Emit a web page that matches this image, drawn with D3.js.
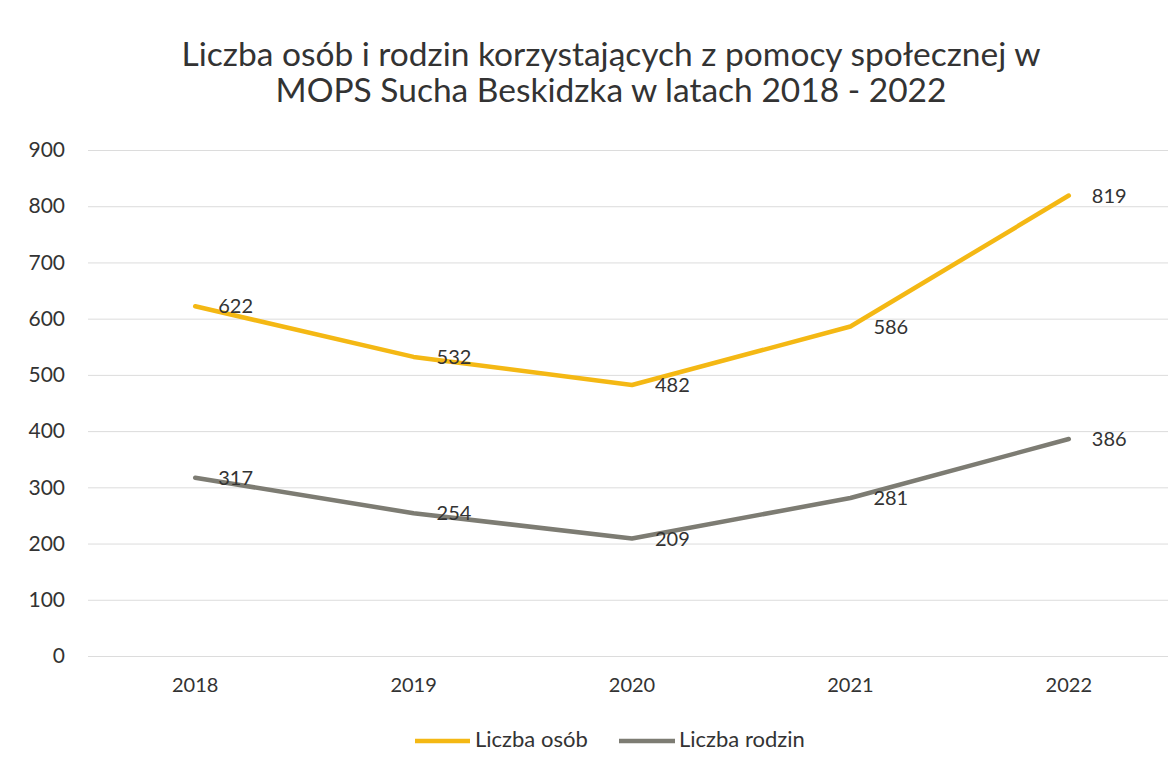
<!DOCTYPE html>
<html>
<head>
<meta charset="utf-8">
<script src="https://cdn.jsdelivr.net/npm/d3@7"></script>
<style>
  html, body { margin: 0; padding: 0; background: #fff; }
  svg { display: block; }
  text { font-family: Lato, "Open Sans", sans-serif; fill: #333; }
</style>
</head>
<body>
<svg id="chart" width="1168" height="767"></svg>
<script>
const titleLines = ["Liczba osób i rodzin korzystających z pomocy społecznej w",
                    "MOPS Sucha Beskidzka w latach 2018 - 2022"];
const years = ["2018", "2019", "2020", "2021", "2022"];
const osoby = [622, 532, 482, 586, 819];
const rodziny = [317, 254, 209, 281, 386];
const yTicks = [0, 100, 200, 300, 400, 500, 600, 700, 800, 900];
const seriesNames = ["Liczba osób", "Liczba rodzin"];
const seriesColors = ["#F4B814", "#7d7c73"];

const svg = d3.select("#chart");
const W = 1168, H = 767;
const plot = { left: 86, right: 1178, top: 150, bottom: 656 };

const x = d3.scaleBand().domain(years).range([plot.left, plot.right]);
const xc = d => x(d) + x.bandwidth() / 2;
const y = d3.scaleLinear().domain([0, 900]).range([plot.bottom, plot.top]);

// title (two separate lines)
titleLines.forEach((t, i) => {
  svg.append("text")
    .attr("text-anchor", "middle")
    .attr("x", 611)
    .attr("y", 66 + i * 36)
    .style("font-size", "33.5px")
    .text(t);
});

// gridlines
const grid = svg.append("g")
  .attr("transform", `translate(${plot.left + 2},0)`)
  .call(d3.axisLeft(y).tickValues(yTicks).tickSize(-(W - plot.left)).tickFormat(""));
grid.select(".domain").remove();
grid.selectAll(".tick line").attr("stroke", "#dcdcdc").attr("stroke-width", 1);

// y labels
const yAxis = svg.append("g")
  .attr("transform", `translate(65,0)`)
  .call(d3.axisLeft(y).tickValues(yTicks).tickSize(0).tickPadding(0));
yAxis.select(".domain").remove();
yAxis.selectAll(".tick text").style("font-size", "21px").attr("fill", "#333");

// x labels
const xAxis = svg.append("g")
  .attr("transform", `translate(0,${plot.bottom})`)
  .call(d3.axisBottom(x).tickSize(0).tickPadding(22));
xAxis.select(".domain").remove();
xAxis.selectAll(".tick text").style("font-size", "20px").attr("fill", "#333");

// lines
const line = d3.line().x((d, i) => xc(years[i])).y(d => y(d));
[osoby, rodziny].forEach((vals, si) => {
  svg.append("path")
    .datum(vals)
    .attr("d", line)
    .attr("fill", "none")
    .attr("stroke", seriesColors[si])
    .attr("stroke-width", 4.5)
    .attr("stroke-linejoin", "round")
    .attr("stroke-linecap", "round");
  svg.append("g").selectAll("text")
    .data(vals)
    .join("text")
    .attr("x", (d, i) => xc(years[i]) + 23)
    .attr("y", d => y(d) + 2)
    .attr("dominant-baseline", "middle")
    .style("font-size", "20px")
    .text(d => d);
});

// legend
const legendItems = [{ x1: 415, x2: 470, tx: 475 }, { x1: 619, x2: 675, tx: 679 }];
const legend = svg.append("g");
seriesNames.forEach((name, i) => {
  const it = legendItems[i];
  legend.append("line")
    .attr("x1", it.x1).attr("x2", it.x2).attr("y1", 741).attr("y2", 741)
    .attr("stroke", seriesColors[i]).attr("stroke-width", 4.5);
  legend.append("text")
    .attr("x", it.tx).attr("y", 741)
    .attr("dominant-baseline", "middle")
    .style("font-size", "22px")
    .text(name);
});
</script>
</body>
</html>
